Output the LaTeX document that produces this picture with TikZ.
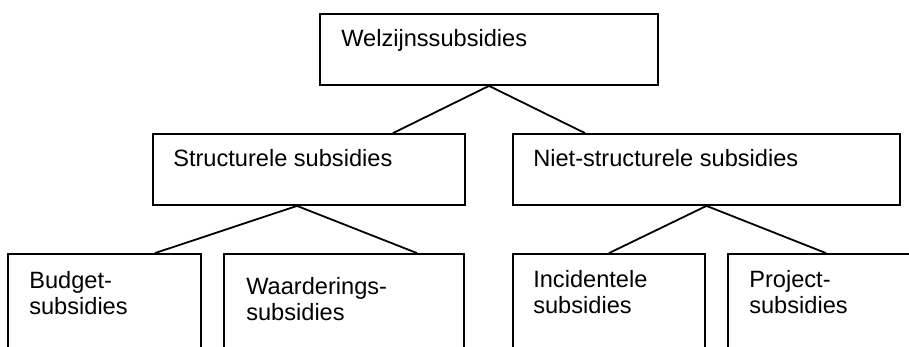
\documentclass[tikz,border=0pt]{standalone}
\usepackage{fontspec}
\setmainfont{Liberation Sans}
\usetikzlibrary{calc}

\tikzset{
    box/.style={draw, line width=1.8pt, inner sep=0pt, minimum width=#1},
    upper/.style={minimum height=71pt},
    lower/.style={minimum height=146pt},
    lbl/.style={anchor=north west, inner sep=0pt, align=left,
        font=\fontsize{23.6}{26.5}\selectfont},
    link/.style={line width=1.8pt}
}

\begin{document}
\begin{tikzpicture}[x=1pt,y=-1pt]
            \useasboundingbox (0,0) rectangle (909,347);
            \clip (0,0) rectangle (909,347);

            % boxes
            \node (W) at (489,49.5) [box=338pt, upper] {};
            \node (S) at (309,169.5) [box=312pt, upper] {};
            \node (N) at (706.5,169.5) [box=387pt, upper] {};
            \node (B) at (104.5,327) [box=193pt, lower] {};
            \node (V) at (344,327) [box=240pt, lower] {};
            \node (I) at (609,327) [box=192pt, lower] {};
            \node (P) at (826,327) [box=196pt, lower] {};

            % texts
            \node (Wt) at ($(W.north west) + (22,16)$) [lbl] {Welzijnssubsidies};
            \node (St) at ($(S.north west) + (21,16)$) [lbl] {Structurele subsidies};
            \node (Nt) at ($(N.north west) + (21,16)$) [lbl] {Niet-structurele subsidies};
            \node (Bt) at ($(B.north west) + (22,18)$) [lbl] {Budget-\\subsidies};
            \node (Vt) at ($(V.north west) + (23,24)$) [lbl] {Waarderings-\\subsidies};
            \node (It) at ($(I.north west) + (21,17)$) [lbl] {Incidentele\\subsidies};
            \node (Pt) at ($(P.north west) + (22,17)$) [lbl] {Project-\\subsidies};

            % links
            \draw [link] ($(S.north) + (84,0)$) -- (W.south) -- ($(N.north) + (-121.5,0)$);
            \draw [link] ($(B.north) + (50.5,0)$) -- ($(S.south) + (-12,0)$) -- ($(V.north) + (73,0)$);
            \draw [link] (I.north) -- (N.south) -- (P.north);

        \end{tikzpicture}
\end{document}
